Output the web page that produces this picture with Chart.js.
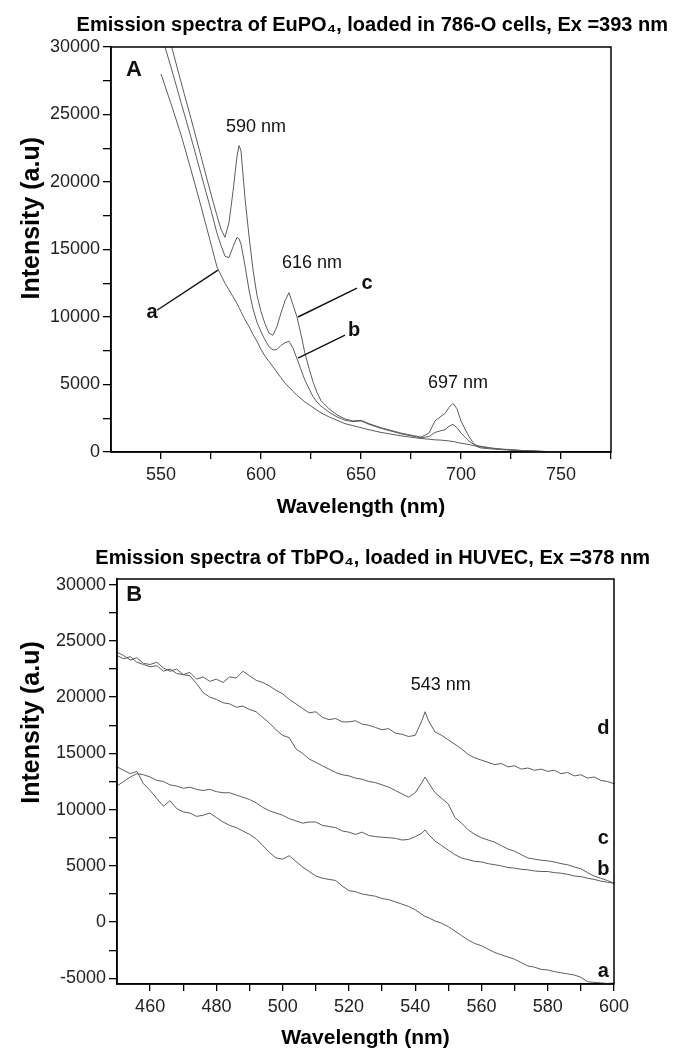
<!DOCTYPE html>
<html><head><meta charset="utf-8">
<script src="https://cdn.jsdelivr.net/npm/chart.js@4.4.1/dist/chart.umd.min.js"></script>
<style>
html,body{margin:0;padding:0;background:#fff;overflow:hidden;}
#wrap{position:relative;width:685px;height:1063px;background:#fff;}
canvas{position:absolute;left:0;}
#cA{top:0;} #cB{top:530px;}
</style></head><body>
<div id="wrap"><canvas id="cA" width="685" height="530"></canvas><canvas id="cB" width="685" height="533"></canvas></div>
<script>
// ---------- Panel A : EuPO4 in 786-O cells ----------
const wavelengthA = [550,555,560,565,570,575,578,580,582,584,586,588,589,590,592,594,596,598,600,602,604,606,608,610,612,614,616,618,620,622,624,626,628,630,634,638,642,646,650,654,660,670,680,684,687,690,692,694,696,698,700,702,704,706,708,710,715,720,730,740,750];
const euCurveA = [28000,25800,23500,20900,18200,15400,13700,13100,12500,12000,11500,11000,10700,10400,9800,9300,8700,8200,7600,7100,6700,6300,5900,5500,5100,4800,4500,4200,3950,3700,3500,3300,3100,2900,2600,2350,2100,1950,1800,1650,1450,1200,1000,950,900,880,850,820,780,720,650,600,550,480,420,380,280,200,110,50,0];
const euCurveB = [31000,28500,25900,23300,20600,17900,16200,15300,14500,14400,15200,15900,15800,15400,13800,12000,10600,9600,8900,8300,7800,7550,7600,7900,8100,8200,7700,6900,6100,5300,4700,4100,3700,3400,2950,2600,2350,2250,2300,2050,1750,1350,1050,1150,1450,1580,1650,1900,2050,1800,1400,1100,800,600,480,420,300,220,120,50,0];
const euCurveC = [33500,30200,27400,24700,21900,19100,17500,16500,15900,17000,19300,21900,22700,22300,18800,16000,13500,11600,10400,9500,8800,8650,9300,10300,11200,11800,10900,10000,8700,7300,6200,5200,4400,3800,3200,2750,2450,2300,2350,2100,1800,1400,1100,1400,2300,2650,2850,3300,3600,3200,2300,1700,1150,700,400,300,230,180,100,40,0];
const xMajorA = [550,600,650,700,750];
const xMinorA = [575,625,675,725,775];
const yMajorA = [0,5000,10000,15000,20000,25000,30000];
const yMinorA = [2500,7500,12500,17500,22500,27500];

// ---------- Panel B : TbPO4 in HUVEC ----------
const wavelengthB = [450,452,454,456,458,460,462,464,466,468,470,472,474,476,478,480,482,484,486,488,490,492,494,496,498,500,502,504,506,508,510,512,514,516,518,520,522,524,526,528,530,532,534,536,538,540,542,543,544,546,548,550,552,554,556,558,560,562,564,566,568,570,572,574,576,578,580,582,584,586,588,590,592,594,596,598,600];
const tbCurveA = [13800,13500,13200,13400,12300,11700,11000,10300,10800,10100,9800,9700,9400,9500,9700,9300,8900,8600,8400,8100,7800,7400,6800,6200,5700,5600,5900,5400,4900,4500,4100,3900,3800,3700,3200,2800,2700,2500,2400,2300,2100,2000,1800,1600,1400,1100,700,500,400,100,-100,-400,-800,-1200,-1600,-1900,-2100,-2400,-2700,-2900,-3100,-3300,-3600,-3900,-4000,-4200,-4250,-4400,-4500,-4600,-4700,-4900,-5300,-5350,-5400,-5450,-5400];
const tbCurveB = [12100,12500,12900,13200,13100,12900,12600,12500,12200,12100,11900,12000,11800,11700,11800,11600,11500,11500,11300,11100,10900,10600,10200,9900,9700,9500,9200,9000,8800,8900,8900,8600,8500,8400,8100,8000,7800,8000,7700,7600,7550,7500,7450,7300,7350,7600,7900,8200,7800,7200,6800,6400,6000,5700,5550,5400,5350,5200,5100,5000,4850,4800,4700,4650,4550,4500,4500,4400,4350,4250,4100,4050,3900,3800,3650,3550,3450];
const tbCurveC = [23700,23400,23600,23100,22900,22700,22800,22300,22500,22100,22000,21900,21200,20400,20000,19800,19500,19400,19100,19200,18900,18700,18200,17700,17100,16600,16400,15400,15000,14500,14200,13900,13600,13300,13100,13000,12800,12700,12500,12400,12200,12000,11700,11400,11100,11500,12400,12900,12400,11500,11000,10500,9300,8800,8200,7800,7500,7300,7100,6800,6500,6300,6000,5700,5600,5500,5450,5350,5200,5100,4900,4750,4400,4100,3900,3700,3450];
const tbCurveD = [24000,23700,23300,23500,23000,22900,23100,22600,22300,22500,22000,22200,21600,21800,21400,21600,21300,21800,21700,22300,21900,21500,21300,21000,20600,20300,19800,19400,19000,18600,18700,18200,18000,18100,17800,17800,17900,17600,17500,17300,17100,17200,16800,16700,16500,16600,17900,18700,17900,16900,16600,16200,15800,15400,14900,14600,14400,14200,14000,14100,13800,13900,13600,13700,13500,13600,13400,13500,13200,13300,13000,13100,12800,12900,12600,12500,12300];
const xMajorB = [460,480,500,520,540,560,580,600];
const xMinorB = [470,490,510,530,550,570,590];
const yMajorB = [-5000,0,5000,10000,15000,20000,25000,30000];
const yMinorB = [-2500,2500,7500,12500,17500,22500,27500];

// annotations in data units
const notesA = [
  {text:'A', x:536.5, y:28300, font:'bold 22px "Liberation Sans"'},
  {text:'590 nm', x:597.5, y:24050, font:'18px "Liberation Sans"'},
  {text:'616 nm', x:625.5, y:14000, font:'18px "Liberation Sans"'},
  {text:'697 nm', x:698.5, y:5100, font:'18px "Liberation Sans"'},
  {text:'a', x:545.5, y:10360, font:'bold 20px "Liberation Sans"'},
  {text:'c', x:653, y:12500, font:'bold 20px "Liberation Sans"'},
  {text:'b', x:646.5, y:9030, font:'bold 20px "Liberation Sans"'}
];
const arrowsA = [
  {x1:548, y1:10500, x2:578.5, y2:13470},
  {x1:648, y1:12140, x2:618.5, y2:10000},
  {x1:642, y1:8660, x2:618.5, y2:6960}
];
const notesB = [
  {text:'B', x:455.2, y:29070, font:'bold 22px "Liberation Sans"'},
  {text:'543 nm', x:547.7, y:21075, font:'18px "Liberation Sans"'},
  {text:'d', x:596.8, y:17255, font:'bold 20px "Liberation Sans"'},
  {text:'c', x:596.8, y:7400, font:'bold 20px "Liberation Sans"'},
  {text:'b', x:596.8, y:4650, font:'bold 20px "Liberation Sans"'},
  {text:'a', x:596.8, y:-4410, font:'bold 20px "Liberation Sans"'}
];
const arrowsB = [];

Chart.defaults.font.family = '"Liberation Sans", Arial, sans-serif';
Chart.defaults.color = '#111';

function pairs(xs, ys){ return xs.map((x,i)=>({x:x, y:ys[i]})); }
function ds(label, xs, ys){
  return {label, data:pairs(xs,ys), xAxisID:'x', yAxisID:'y', borderColor:'#5c5c5c', borderWidth:1, pointRadius:0, tension:0, fill:false};
}
function notesPlugin(notes, arrows){
  return {id:'notes', afterDatasetsDraw(chart){
    const ctx=chart.ctx, sx=chart.scales.x, sy=chart.scales.y;
    ctx.save();
    ctx.strokeStyle='#111'; ctx.lineWidth=1.4;
    arrows.forEach(a=>{ctx.beginPath();ctx.moveTo(sx.getPixelForValue(a.x1),sy.getPixelForValue(a.y1));ctx.lineTo(sx.getPixelForValue(a.x2),sy.getPixelForValue(a.y2));ctx.stroke();});
    ctx.fillStyle='#111'; ctx.textAlign='center'; ctx.textBaseline='middle';
    notes.forEach(n=>{ctx.font=n.font; ctx.fillText(n.text, sx.getPixelForValue(n.x), sy.getPixelForValue(n.y));});
    ctx.restore();
  }};
}
const framePlugin = {id:'frame', afterDraw(chart){
  const {ctx, chartArea:a} = chart; ctx.save(); ctx.strokeStyle='#000'; ctx.lineWidth=1.5;
  ctx.strokeRect(a.left, a.top, a.right-a.left, a.bottom-a.top); ctx.restore();
}};
function tickSetter(major, minor){
  return function(scale){ scale.ticks = major.concat(minor).sort((p,q)=>p-q).map(v=>({value:v})); };
}
function makeChart(id, cfg){
  return new Chart(document.getElementById(id), {
    type:'line',
    data:{datasets:cfg.datasets},
    options:{
      responsive:false, animation:false, devicePixelRatio:1,
      layout:{padding:{left:0, right:cfg.padRight, top:0, bottom:0}},
      plugins:{
        legend:{display:false}, tooltip:{enabled:false},
        title:{display:true, text:cfg.title, fullSize:true, align:'end', color:'#000',
          font:{size:20, weight:'bold'}, padding:{top:cfg.titleTop, bottom:cfg.titleBottom}}
      },
      scales:{
        x:{type:'linear', min:cfg.xmin, max:cfg.xmax,
          afterBuildTicks:tickSetter(cfg.xMajor, cfg.xMinor),
          afterFit(s){ s.height = cfg.xHeight; },
          ticks:{autoSkip:false, maxRotation:0, padding:5, color:'#222', font:{size:18},
            callback:(v)=>cfg.xMajor.includes(v)?String(v):''},
          grid:{drawOnChartArea:false, drawTicks:true, tickLength:7, color:'#000', lineWidth:1.3},
          border:{display:true, color:'#000', width:1.5},
          title:{display:true, text:'Wavelength (nm)', color:'#000', font:{size:21, weight:'bold'}, padding:{top:0, bottom:cfg.xTitlePad}}
        },
        y:{type:'linear', position:'left', min:cfg.ymin, max:cfg.ymax,
          afterBuildTicks:tickSetter(cfg.yMajor, cfg.yMinor),
          afterFit(s){ s.width = cfg.yWidth; },
          ticks:{autoSkip:false, padding:3, color:'#222', font:{size:18},
            callback:(v)=>cfg.yMajor.includes(v)?String(v):''},
          grid:{drawOnChartArea:false, drawTicks:true, tickLength:8, color:'#000', lineWidth:1.3},
          border:{display:true, color:'#000', width:1.5},
          title:{display:true, text:cfg.yTitle, color:'#000', font:{size:25, weight:'bold'}, padding:{top:17, bottom:0}}
        },
        yR:{type:'linear', position:'right', display:true,
          afterFit(s){ s.width = cfg.rightWidth; },
          grid:{display:false, drawTicks:false}, border:{display:false}, ticks:{display:false}, title:{display:false}
        }
      }
    },
    plugins:[framePlugin, notesPlugin(cfg.notes, cfg.arrows)]
  });
}

makeChart('cA', {
  datasets:[ds('a',wavelengthA,euCurveA), ds('b',wavelengthA,euCurveB), ds('c',wavelengthA,euCurveC)],
  title:'Emission spectra of EuPO\u2084, loaded in 786-O cells, Ex =393 nm',
  titleTop:13, titleBottom:10, padRight:17, rightWidth:57, xHeight:78, yWidth:111, xTitlePad:10,
  xmin:525, xmax:775, ymin:0, ymax:30000,
  xMajor:xMajorA, xMinor:xMinorA, yMajor:yMajorA, yMinor:yMinorA,
  yTitle:'         Intensity (a.u)', notes:notesA, arrows:arrowsA
});
makeChart('cB', {
  datasets:[ds('a',wavelengthB,tbCurveA), ds('b',wavelengthB,tbCurveB), ds('c',wavelengthB,tbCurveC), ds('d',wavelengthB,tbCurveD)],
  title:'Emission spectra of TbPO\u2084, loaded in HUVEC, Ex =378 nm',
  titleTop:16, titleBottom:9, padRight:35, rightWidth:36, xHeight:79, yWidth:117, xTitlePad:12,
  xmin:450, xmax:600, ymin:-5500, ymax:30500,
  xMajor:xMajorB, xMinor:xMinorB, yMajor:yMajorB, yMinor:yMinorB,
  yTitle:'                 Intensity (a.u)', notes:notesB, arrows:arrowsB
});
</script>
</body></html>
